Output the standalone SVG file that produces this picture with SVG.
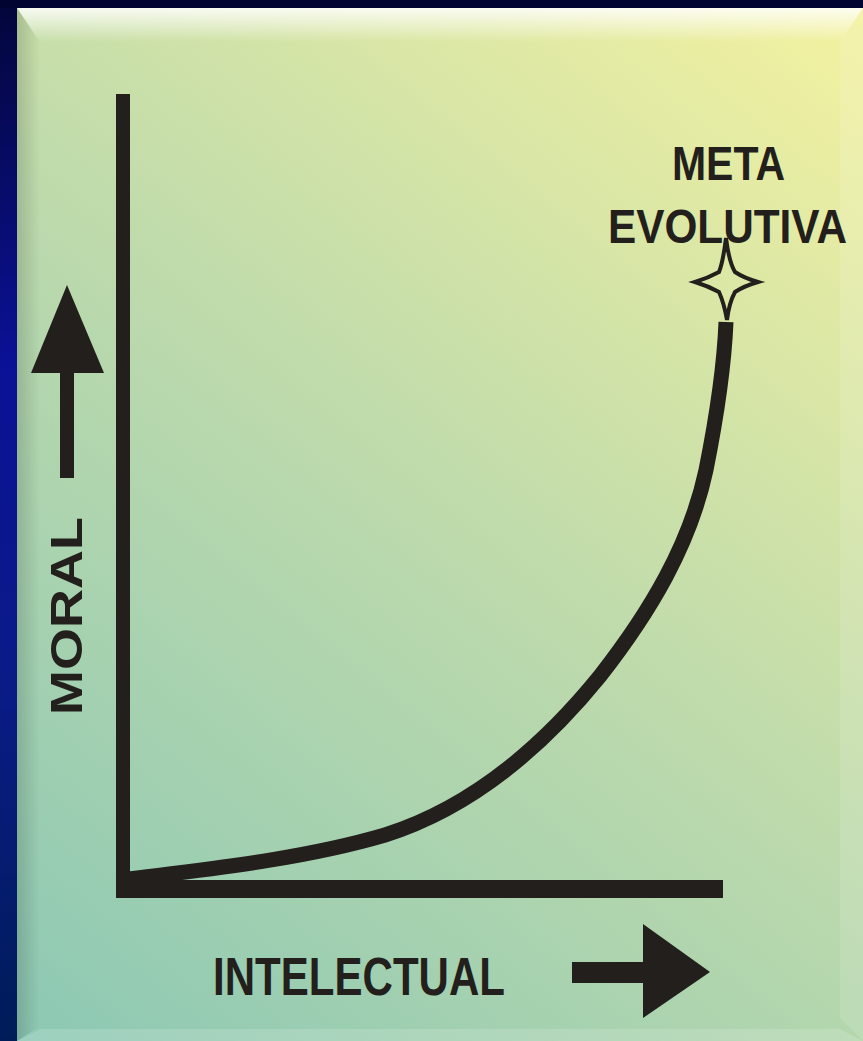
<svg xmlns="http://www.w3.org/2000/svg" width="863" height="1041" viewBox="0 0 863 1041">
  <defs>
    <linearGradient id="navy" x1="0" y1="0" x2="0" y2="1">
      <stop offset="0" stop-color="#03063a"/>
      <stop offset="0.35" stop-color="#0b1196"/>
      <stop offset="0.65" stop-color="#0a1b88"/>
      <stop offset="1" stop-color="#001c58"/>
    </linearGradient>
    <linearGradient id="panel" gradientUnits="userSpaceOnUse" x1="17" y1="1041" x2="863" y2="8">
      <stop offset="0" stop-color="#8cc8b4"/>
      <stop offset="0.5" stop-color="#bddaac"/>
      <stop offset="1" stop-color="#f4f2a0"/>
    </linearGradient>
    <linearGradient id="topBevel" x1="0" y1="0" x2="0" y2="1">
      <stop offset="0" stop-color="#ffffff" stop-opacity="0.85"/>
      <stop offset="1" stop-color="#ffffff" stop-opacity="0"/>
    </linearGradient>
    <linearGradient id="leftBevel" x1="0" y1="0" x2="1" y2="0">
      <stop offset="0" stop-color="#000000" stop-opacity="0.15"/>
      <stop offset="1" stop-color="#000000" stop-opacity="0"/>
    </linearGradient>
    <style>
      .ink { fill: #231f1c; }
      .lbl { font-family: "Liberation Sans", Arial, sans-serif; font-weight: bold; fill: #231f1c; }
      .line { fill: none; stroke: #231f1c; }
    </style>
  </defs>

  <g id="background">
    <rect x="0" y="0" width="863" height="1041" fill="url(#navy)"/>
    <rect x="0" y="0" width="863" height="8" fill="#010431"/>
    <rect x="17" y="8" width="846" height="1033" fill="url(#panel)"/>
    <polygon points="17,8 863,8 840,42 40,42" fill="url(#topBevel)"/>
    <polygon points="17,8 40,42 40,1026 17,1041" fill="url(#leftBevel)"/>
    <polygon points="863,8 863,1041 840,1018 840,42" fill="#ffffff" fill-opacity="0.12"/>
    <polygon points="17,1041 863,1041 840,1029 40,1029" fill="#ffffff" fill-opacity="0.15"/>
  </g>

  <g id="connectors">
    <rect id="y-axis" class="ink" x="116" y="94" width="14" height="804"/>
    <rect id="x-axis" class="ink" x="116" y="880" width="607" height="18"/>
    <path id="curve" class="line" stroke-width="15" d="M128,879 C200,870 300,860 385,835 C470,808 540,750 600,676 C650,612 690,545 706,470 C716,420 724,370 726,322"/>
  </g>

  <g id="moral-arrow">
    <polygon class="ink" points="67,285 104,373 31,373"/>
    <rect class="ink" x="60" y="372" width="14" height="106"/>
  </g>

  <g id="moral-label">
    <text class="lbl" font-size="45" transform="translate(82,616) rotate(-90)" x="0" y="0" text-anchor="middle" textLength="198" lengthAdjust="spacingAndGlyphs">MORAL</text>
  </g>

  <g id="intelectual-arrow">
    <rect class="ink" x="572" y="962" width="73" height="21"/>
    <polygon class="ink" points="643,924 710,972 643,1018"/>
  </g>

  <g id="intelectual-label">
    <text class="lbl" font-size="54" x="213" y="995" textLength="292" lengthAdjust="spacingAndGlyphs">INTELECTUAL</text>
  </g>

  <g id="meta-evolutiva">
    <text class="lbl" font-size="49" x="672" y="180" textLength="113" lengthAdjust="spacingAndGlyphs">META</text>
    <text class="lbl" font-size="49" x="608" y="243" textLength="239" lengthAdjust="spacingAndGlyphs">EVOLUTIVA</text>
    <path id="star" fill="none" stroke="#231f1c" stroke-width="4" stroke-linejoin="miter" d="M726,238 Q729,262 735,272 Q744,278 758,282 Q744,286 735,292 Q729,303 727,320 Q724,303 719,292 Q708,286 695,282 Q708,278 719,272 Q723,262 726,238 Z"/>
  </g>
</svg>
